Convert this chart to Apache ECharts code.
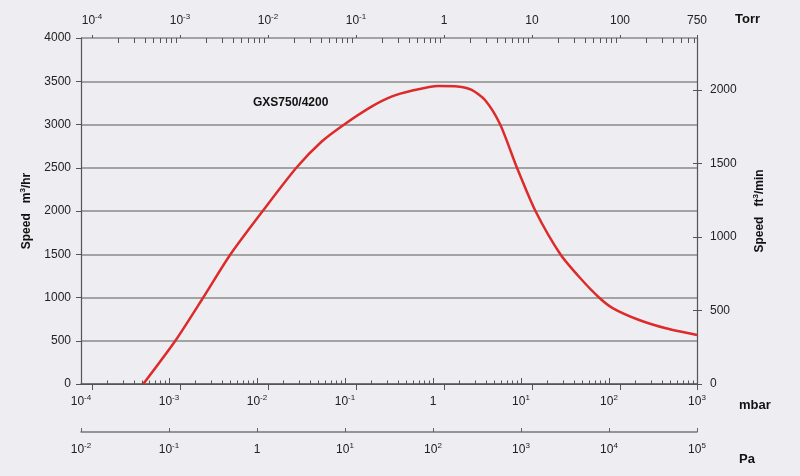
<!DOCTYPE html>
<html>
<head>
<meta charset="utf-8">
<script src="https://cdn.jsdelivr.net/npm/echarts@6/dist/echarts.min.js"></script>
<style>
html,body{margin:0;padding:0;background:#eeeef2;}
#chart{width:800px;height:476px;}
</style>
</head>
<body>
<div id="chart"></div>
<script>
// ---- data ----
const pressureMbar = [5.1e-4, 1.18e-3, 2.45e-3, 5.0e-3, 1.16e-2, 2.8e-2, 5.4e-2, 9.8e-2, 0.2, 0.337, 0.57, 1.15, 1.9, 2.75, 3.9, 5.8, 9.0, 14.6, 28, 47, 77, 110, 220, 444, 1000];
const speedM3h    = [0,      500,     1000,    1500,   2000,   2500,   2800,   3000,   3206, 3322,  3390, 3445, 3440, 3400, 3283, 3000, 2500, 2000, 1500, 1225, 1000, 878, 740, 644, 566];

const mbarTicks = [1e-4, 1e-3, 1e-2, 1e-1, 1, 1e1, 1e2, 1e3];
const mbarTickLabels = ['10^-4', '10^-3', '10^-2', '10^-1', '1', '10^1', '10^2', '10^3'];
const torrTicks = [1e-4, 1e-3, 1e-2, 1e-1, 1, 10, 100, 750];
const torrTickLabels = ['10^-4', '10^-3', '10^-2', '10^-1', '1', '10', '100', '750'];
const paTicks = [1e-2, 1e-1, 1, 1e1, 1e2, 1e3, 1e4, 1e5];
const paTickLabels = ['10^-2', '10^-1', '1', '10^1', '10^2', '10^3', '10^4', '10^5'];
const speedTicks = [0, 500, 1000, 1500, 2000, 2500, 3000, 3500, 4000];
const ftTicks = [0, 500, 1000, 1500, 2000];
const modelName = 'GXS750/4200';
const unitNames = ['Torr', 'mbar', 'Pa'];

// unit conversions
const MBAR_TO_TORR = 0.750062;
const M3H_TO_CFM = 0.588578;

const mbarMin = 1e-4, mbarMax = 1e3;
const speedMax = 4000;

function minorTicks(lo, hi) {
  const out = [];
  for (let e = Math.floor(Math.log10(lo)) - 1; e <= Math.ceil(Math.log10(hi)); e++) {
    for (let m = 2; m <= 9; m++) {
      const v = m * Math.pow(10, e);
      if (v > lo * 1.0001 && v < hi * 0.9999) out.push(v);
    }
  }
  return out;
}

function makeFormatter(ticks, labels) {
  return function (value) {
    let idx = -1;
    for (let i = 0; i < ticks.length; i++) {
      if (Math.abs(Math.log10(value) - Math.log10(ticks[i])) < 1e-4) { idx = i; break; }
    }
    if (idx < 0) return '';
    const l = labels[idx];
    if (l.indexOf('^') >= 0) {
      const p = l.split('^');
      return '{n|' + p[0] + '}{s|' + p[1] + '}';
    }
    return '{n|' + l + '}';
  };
}

const FONT = '"Liberation Sans", Arial, sans-serif';
const labelRich = {
  n: { fontSize: 12, fontFamily: FONT, color: '#222', lineHeight: 16 },
  s: { fontSize: 8, fontFamily: FONT, color: '#222', lineHeight: 9, verticalAlign: 'top' }
};
const nameRich = {
  n: { fontSize: 12, fontFamily: FONT, fontWeight: 'bold', color: '#111', lineHeight: 16 },
  s: { fontSize: 8, fontFamily: FONT, fontWeight: 'bold', color: '#111', lineHeight: 9, verticalAlign: 'top' }
};
const unitStyle = { fontSize: 13, fontWeight: 'bold', fontFamily: FONT, fill: '#111', verticalAlign: 'middle' };

const torrMin = mbarMin * MBAR_TO_TORR, torrMax = mbarMax * MBAR_TO_TORR;
const paMin = mbarMin * 100, paMax = mbarMax * 100;

const chart = echarts.init(document.getElementById('chart'), null, { renderer: 'canvas' });

const seriesData = pressureMbar.map((p, i) => [p, speedM3h[i]]);

const option = {
  backgroundColor: '#eeeef2',
  animation: false,
  grid: { left: 81, right: 103, top: 38, bottom: 92, containLabel: false, outerBoundsMode: 'none' },
  xAxis: [
    { // mbar main
      type: 'log', logBase: 10, min: mbarMin, max: mbarMax, position: 'bottom',
      axisLine: { show: true, lineStyle: { color: '#666', width: 1.5 } },
      axisTick: { show: true, inside: true, length: 6, customValues: mbarTicks, lineStyle: { color: '#555' } },
      axisLabel: { show: true, customValues: mbarTicks, formatter: makeFormatter(mbarTicks, mbarTickLabels), margin: 10, rich: labelRich },
      splitLine: { show: false }, minorTick: { show: false }
    },
    { // mbar minor ticks
      type: 'log', logBase: 10, min: mbarMin, max: mbarMax, position: 'bottom',
      axisLine: { show: false },
      axisTick: { show: true, inside: true, length: 3.5, customValues: minorTicks(mbarMin, mbarMax), lineStyle: { color: '#555' } },
      axisLabel: { show: false }, splitLine: { show: false }
    },
    { // Torr major
      type: 'log', logBase: 10, min: torrMin, max: torrMax, position: 'top',
      axisLine: { show: true, lineStyle: { color: '#555', width: 1.2 } },
      axisTick: { show: true, inside: true, length: 6, customValues: torrTicks, lineStyle: { color: '#555' } },
      axisLabel: { show: true, customValues: torrTicks, formatter: makeFormatter(torrTicks, torrTickLabels), margin: 9, rich: labelRich },
      splitLine: { show: false }
    },
    { // Torr minor
      type: 'log', logBase: 10, min: torrMin, max: torrMax, position: 'top',
      axisLine: { show: false },
      axisTick: { show: true, inside: true, length: 5, customValues: minorTicks(1e-4, torrMax), lineStyle: { color: '#555' } },
      axisLabel: { show: false }, splitLine: { show: false }
    },
    { // Torr major outer stub
      type: 'log', logBase: 10, min: torrMin, max: torrMax, position: 'top',
      axisLine: { show: false },
      axisTick: { show: true, inside: false, length: 3, customValues: torrTicks, lineStyle: { color: '#555' } },
      axisLabel: { show: false }, splitLine: { show: false }
    },
    { // Pa
      type: 'log', logBase: 10, min: paMin, max: paMax, position: 'bottom', offset: 48,
      axisLine: { show: true, lineStyle: { color: '#777', width: 1.5 } },
      axisTick: { show: true, inside: true, length: 4, customValues: paTicks, lineStyle: { color: '#666' } },
      axisLabel: { show: true, customValues: paTicks, formatter: makeFormatter(paTicks, paTickLabels), margin: 10, rich: labelRich },
      splitLine: { show: false }
    }
  ],
  yAxis: [
    {
      type: 'value', min: 0, max: speedMax, interval: 500, position: 'left',
      axisLine: { show: true, lineStyle: { color: '#555', width: 1.2 } },
      axisTick: { show: true, inside: false, length: 5, lineStyle: { color: '#555' } },
      axisLabel: { show: true, margin: 10, fontSize: 12, fontFamily: FONT, color: '#222',
                   customValues: speedTicks, formatter: v => String(v) },
      splitLine: { show: true, lineStyle: { color: '#8a8a8a', width: 1.5 } },
      name: '{n|Speed   m}{s|3}{n|/hr}', nameLocation: 'middle', nameRotate: 90, nameGap: 46,
      nameTextStyle: { rich: nameRich }
    },
    {
      type: 'value', min: 0, max: speedMax * M3H_TO_CFM, position: 'right',
      axisLine: { show: true, lineStyle: { color: '#555', width: 1.2 } },
      axisTick: { show: true, inside: false, length: 5, customValues: ftTicks, lineStyle: { color: '#555' } },
      axisLabel: { show: true, margin: 13, fontSize: 12, fontFamily: FONT, color: '#222', customValues: ftTicks, formatter: v => String(v) },
      splitLine: { show: false },
      name: '{n|Speed   ft}{s|3}{n|/min}', nameLocation: 'middle', nameRotate: 90, nameGap: 55,
      nameTextStyle: { rich: nameRich }
    },
    {
      type: 'value', min: 0, max: speedMax * M3H_TO_CFM, position: 'right',
      axisLine: { show: false },
      axisTick: { show: true, inside: true, length: 4, customValues: ftTicks, lineStyle: { color: '#555' } },
      axisLabel: { show: false }, splitLine: { show: false }
    }
  ],
  graphic: [
    { type: 'text', left: 253, top: 97, style: { text: modelName, fontSize: 12, fontWeight: 'bold', fontFamily: FONT, fill: '#111' } },
    { type: 'text', x: 735, y: 19, style: Object.assign({ text: unitNames[0] }, unitStyle) },
    { type: 'text', x: 739, y: 405, style: Object.assign({ text: unitNames[1] }, unitStyle) },
    { type: 'text', x: 739, y: 459, style: Object.assign({ text: unitNames[2] }, unitStyle) }
  ],
  series: [
    {
      type: 'line', xAxisIndex: 0, yAxisIndex: 0,
      data: seriesData, showSymbol: false, smooth: 0.25,
      lineStyle: { color: '#dd2b2b', width: 2.5 },
      clip: true
    }
  ]
};
chart.setOption(option);
</script>
</body>
</html>
